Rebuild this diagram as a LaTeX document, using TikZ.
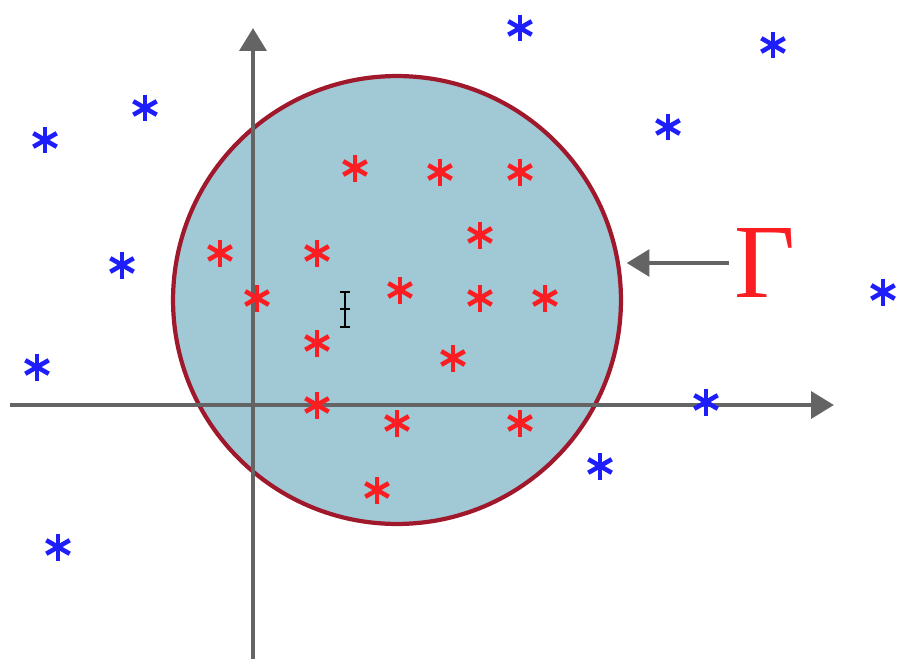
\documentclass[tikz,border=0pt]{standalone}
\usepackage{amsmath,amssymb}
\usepackage{fontspec}
\usepackage{tikz}
\usetikzlibrary{arrows.meta}

\newfontfamily\gammafont{Liberation Serif}

\definecolor{regionfill}{RGB}{160,201,213}
\definecolor{regionline}{RGB}{160,24,44}
\definecolor{axisgray}{RGB}{100,100,100}
\definecolor{ptblue}{RGB}{30,30,250}
\definecolor{ptred}{RGB}{250,30,35}

\tikzset{
  axisline/.style={line width=2.8pt,axisgray,-{Triangle[length=13pt,width=15pt]}},
  ast/.pic={\foreach \a in {90,30,150} \draw[line width=2.6pt] (\a:0.27cm) -- (\a+180:0.27cm);}
}

\begin{document}
\begin{tikzpicture}[x=0.02cm,y=-0.02cm]
\useasboundingbox (0,0) rectangle (899,659);

% region Gamma
\node[circle,draw=regionline,fill=regionfill,line width=2.4pt,minimum size=8.96cm,inner sep=0pt] (region) at (397,300) {};

% axes
\coordinate (xstart) at (10,405);
\coordinate (xend) at (834,405);
\coordinate (ystart) at (253,659);
\coordinate (yend) at (253,28);
\draw[axisline] (xstart) -- (xend);
\draw[axisline] (ystart) -- (yend);

% label and arrow
\node[text=ptred,font=\gammafont\fontsize{60}{62}\selectfont,inner sep=0pt] (gamma) at (765,263) {Γ};
\draw[axisline] ([xshift=-3pt]gamma.west) -- ([xshift=2pt]region.east |- gamma.west);

% points outside
\foreach \p in {(45,140),(145,108),(520,28),(773,45),(668,127),(122,265),(883,292),(37,367),(706,402),(600,466),(58,547)}
  \pic[ptblue] at \p {ast};

% points inside
\foreach \p in {(355,168),(440,172),(520,172),(480,235),(220,253),(317,253),(257,298),(400,290),(480,298),(545,298),(317,343),(453,358),(317,405),(397,423),(520,423),(377,490)}
  \pic[ptred] at \p {ast};

% cursor
\coordinate (ctop) at (345,292);
\coordinate (cbot) at (345,327);
\draw[line width=0.9pt] (ctop) -- (cbot);
\draw[line width=0.9pt] ([xshift=-3pt]ctop) -- ([xshift=3pt]ctop);
\draw[line width=0.9pt] ([xshift=-3pt]cbot) -- ([xshift=3pt]cbot);
\draw[line width=0.9pt] (340,309) -- (350,309);
\end{tikzpicture}
\end{document}
